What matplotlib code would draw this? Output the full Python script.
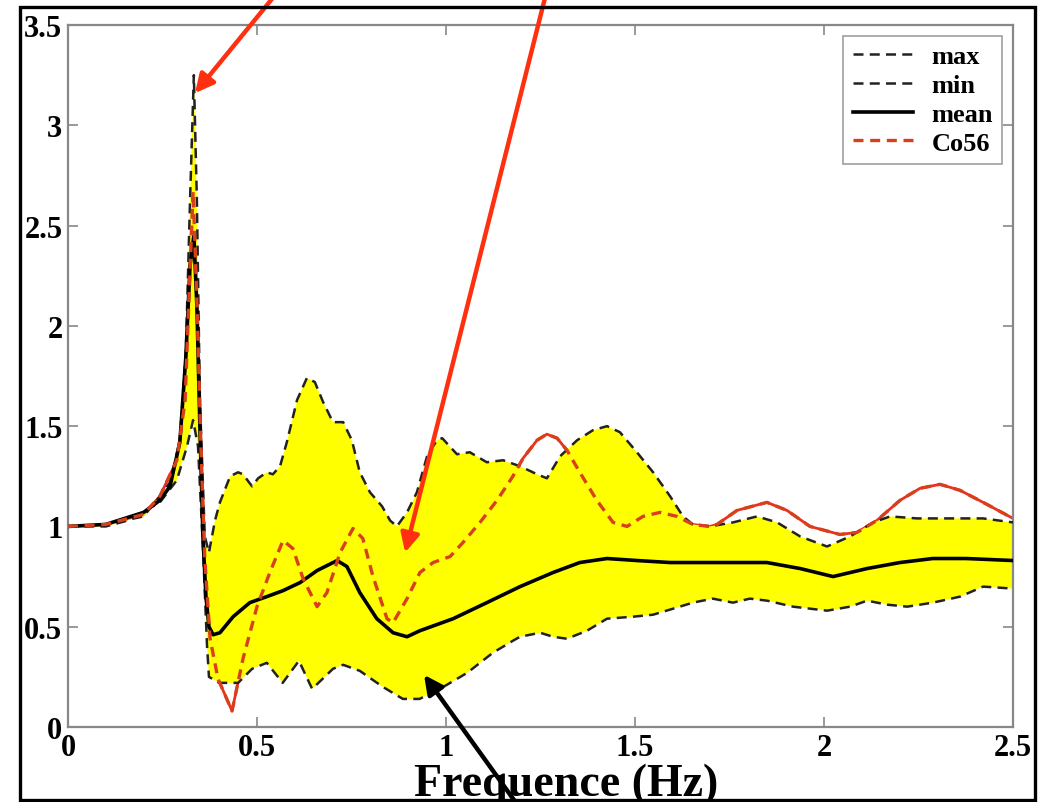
import matplotlib
matplotlib.use("Agg")
import matplotlib.pyplot as plt
from matplotlib.patches import Rectangle

# Envelope of the simulated transfer functions (upper bound)
max_f = [0.000, 0.100, 0.200, 0.243, 0.270, 0.296, 0.312, 0.323, 0.333, 0.341,
         0.349, 0.362, 0.373, 0.389, 0.402, 0.429, 0.450, 0.463, 0.487, 0.503,
         0.526, 0.542, 0.561, 0.579, 0.606, 0.632, 0.653, 0.675, 0.701, 0.728,
         0.751, 0.772, 0.799, 0.831, 0.852, 0.870, 0.897, 0.923, 0.950, 0.976,
         0.990, 1.029, 1.063, 1.108, 1.151, 1.196, 1.241, 1.267, 1.302, 1.347,
         1.389, 1.426, 1.460, 1.505, 1.548, 1.593, 1.627, 1.653, 1.698, 1.759,
         1.823, 1.876, 1.937, 2.008, 2.069, 2.130, 2.175, 2.246, 2.333, 2.421,
         2.500]
max_v = [1.00, 1.01, 1.05, 1.15, 1.22, 1.43, 1.88, 2.63, 3.25, 2.63,
         1.63, 0.95, 0.87, 1.03, 1.12, 1.25, 1.27, 1.26, 1.20, 1.24,
         1.27, 1.26, 1.30, 1.42, 1.63, 1.74, 1.72, 1.62, 1.52, 1.52,
         1.43, 1.27, 1.17, 1.10, 1.03, 1.00, 1.07, 1.17, 1.35, 1.43,
         1.44, 1.36, 1.37, 1.32, 1.33, 1.30, 1.26, 1.24, 1.35, 1.43,
         1.48, 1.50, 1.47, 1.37, 1.27, 1.15, 1.05, 1.01, 1.00, 1.02,
         1.05, 1.02, 0.95, 0.90, 0.95, 1.02, 1.05, 1.04, 1.04, 1.04,
         1.02]

# Lower bound
min_f = [0.000, 0.100, 0.159, 0.243, 0.288, 0.315, 0.331, 0.344, 0.357, 0.368,
         0.373, 0.400, 0.450, 0.487, 0.526, 0.568, 0.611, 0.646, 0.701, 0.728,
         0.772, 0.833, 0.886, 0.930, 0.984, 1.056, 1.124, 1.177, 1.196, 1.249,
         1.283, 1.320, 1.373, 1.426, 1.495, 1.548, 1.601, 1.653, 1.706, 1.759,
         1.804, 1.849, 1.918, 2.008, 2.069, 2.114, 2.167, 2.220, 2.288, 2.360,
         2.421, 2.500]
min_v = [1.00, 1.00, 1.03, 1.12, 1.23, 1.40, 1.53, 1.40, 0.90, 0.40,
         0.25, 0.22, 0.22, 0.29, 0.32, 0.22, 0.33, 0.19, 0.29, 0.31,
         0.28, 0.20, 0.14, 0.14, 0.19, 0.27, 0.37, 0.43, 0.45, 0.47,
         0.45, 0.44, 0.48, 0.54, 0.55, 0.56, 0.59, 0.62, 0.64, 0.62,
         0.64, 0.63, 0.60, 0.58, 0.60, 0.63, 0.61, 0.60, 0.62, 0.65,
         0.70, 0.69]

# Mean of the simulations
mean_f = [0.000, 0.100, 0.200, 0.243, 0.270, 0.296, 0.312, 0.323, 0.333, 0.341,
          0.349, 0.357, 0.365, 0.373, 0.384, 0.402, 0.437, 0.481, 0.526, 0.569,
          0.614, 0.659, 0.712, 0.738, 0.772, 0.817, 0.860, 0.897, 0.931, 1.019,
          1.108, 1.196, 1.283, 1.354, 1.426, 1.505, 1.593, 1.680, 1.759, 1.849,
          1.937, 2.024, 2.114, 2.201, 2.288, 2.376, 2.500]
mean_v = [1.00, 1.01, 1.07, 1.13, 1.20, 1.42, 1.85, 2.30, 2.45, 2.10,
          1.50, 0.95, 0.65, 0.50, 0.46, 0.47, 0.55, 0.62, 0.65, 0.68,
          0.72, 0.78, 0.83, 0.80, 0.67, 0.54, 0.47, 0.45, 0.48, 0.54,
          0.62, 0.70, 0.77, 0.82, 0.84, 0.83, 0.82, 0.82, 0.82, 0.82,
          0.79, 0.75, 0.79, 0.82, 0.84, 0.84, 0.83]

# Recorded station Co56
co_f = [0.000, 0.100, 0.200, 0.243, 0.288, 0.310, 0.320, 0.331, 0.341, 0.352,
        0.362, 0.376, 0.397, 0.434, 0.463, 0.500, 0.534, 0.569, 0.595, 0.622,
        0.659, 0.685, 0.720, 0.754, 0.780, 0.807, 0.844, 0.860, 0.897, 0.931,
        0.966, 1.011, 1.045, 1.090, 1.135, 1.177, 1.204, 1.241, 1.267, 1.294,
        1.320, 1.354, 1.399, 1.442, 1.479, 1.521, 1.566, 1.611, 1.653, 1.698,
        1.717, 1.770, 1.849, 1.902, 1.963, 2.042, 2.087, 2.140, 2.201, 2.254,
        2.307, 2.360, 2.431, 2.500]
co_v = [1.00, 1.01, 1.06, 1.15, 1.33, 1.63, 2.13, 2.67, 2.13, 1.38,
        0.84, 0.44, 0.24, 0.08, 0.34, 0.60, 0.77, 0.93, 0.89, 0.74,
        0.60, 0.67, 0.87, 0.99, 0.94, 0.75, 0.54, 0.52, 0.64, 0.77,
        0.82, 0.85, 0.92, 1.02, 1.13, 1.25, 1.34, 1.43, 1.46, 1.44,
        1.38, 1.27, 1.13, 1.02, 1.00, 1.05, 1.07, 1.05, 1.01, 1.00,
        1.01, 1.08, 1.12, 1.08, 1.00, 0.96, 0.97, 1.03, 1.13, 1.19,
        1.21, 1.18, 1.11, 1.04]

x_ticks = [0, 0.5, 1, 1.5, 2, 2.5]
x_tick_labels = ["0", "0.5", "1", "1.5", "2", "2.5"]
y_ticks = [0, 0.5, 1, 1.5, 2, 2.5, 3, 3.5]
y_tick_labels = ["0", "0.5", "1", "1.5", "2", "2.5", "3", "3.5"]

serif = ["Liberation Serif", "DejaVu Serif"]
RED = "#e8321e"
ARROW_RED = "#ff3010"

fig = plt.figure(figsize=(10.44, 8.03), dpi=100)
fig.patch.set_facecolor("white")
ax = fig.add_axes([0.0651, 0.0934, 0.9052, 0.8742])

# Red solid curve sits under the yellow band so it only shows outside it
ax.plot(co_f, co_v, color=RED, lw=2.0, zorder=1)

band_x = list(max_f) + list(reversed(min_f))
band_y = list(max_v) + list(reversed(min_v))
ax.fill(band_x, band_y, color="#ffff00", lw=0, zorder=2)

l_max, = ax.plot(max_f, max_v, color="#222222", lw=1.8, ls=(0, (4, 2.5)), zorder=3, label="max")
l_min, = ax.plot(min_f, min_v, color="#222222", lw=1.8, ls=(0, (4, 2.5)), zorder=3, label="min")
l_mean, = ax.plot(mean_f, mean_v, color="black", lw=2.6, zorder=4, label="mean")
l_co, = ax.plot(co_f, co_v, color="#d8401c", lw=2.4, ls=(0, (3, 2)), zorder=5, label="Co56")

ax.set_xlim(0, 2.5)
ax.set_ylim(0, 3.5)
ax.set_xticks(x_ticks)
ax.set_xticklabels(x_tick_labels)
ax.set_yticks(y_ticks)
ax.set_yticklabels(y_tick_labels)
ax.tick_params(direction="in", length=7, width=1.2, color="#888888",
               top=True, right=True, labelsize=22)
ax.tick_params(axis="x", pad=4)
ax.tick_params(axis="y", pad=4)
for lab in ax.get_xticklabels() + ax.get_yticklabels():
    lab.set_family(serif)
    lab.set_fontweight("bold")
for sp in ax.spines.values():
    sp.set_color("#888888")
    sp.set_linewidth(1.6)

# Axis title, placed in figure pixels so it sits on the lower frame edge
fig.text(566 / 1044, 7 / 803, "Frequence (Hz)", family=serif, fontweight="bold",
         fontsize=33, ha="center", va="baseline")

leg = ax.legend(handles=[l_max, l_min, l_mean, l_co], loc="upper right",
                prop={"family": serif, "weight": "bold", "size": 19},
                frameon=True, fancybox=False, handlelength=2.3, handletextpad=0.7,
                labelspacing=0.2, borderpad=0.35, borderaxespad=0.4)
leg.get_frame().set_edgecolor("#888888")
leg.get_frame().set_linewidth(1.2)

# Callout arrows
arrow_kw = dict(arrowstyle="-|>", lw=3.2, mutation_scale=28, shrinkA=0, shrinkB=0)
ax.annotate("", xy=(0.336, 3.16), xycoords="data", xytext=(276, 808),
            textcoords="figure pixels", annotation_clip=False,
            arrowprops=dict(color=ARROW_RED, **arrow_kw), zorder=10)
ax.annotate("", xy=(0.892, 0.87), xycoords="data", xytext=(546, 808),
            textcoords="figure pixels", annotation_clip=False,
            arrowprops=dict(color=ARROW_RED, **arrow_kw), zorder=10)
ax.annotate("", xy=(0.942, 0.26), xycoords="data", xytext=(519, -5),
            textcoords="figure pixels", annotation_clip=False,
            arrowprops=dict(color="black", **arrow_kw), zorder=10)

# Outer frame around the figure
fig.patches.append(Rectangle((0.0192, 0.0025), 0.9722, 0.9875, transform=fig.transFigure,
                             fill=False, edgecolor="black", lw=2.4, zorder=20))

fig.savefig("out.png", dpi=100)
